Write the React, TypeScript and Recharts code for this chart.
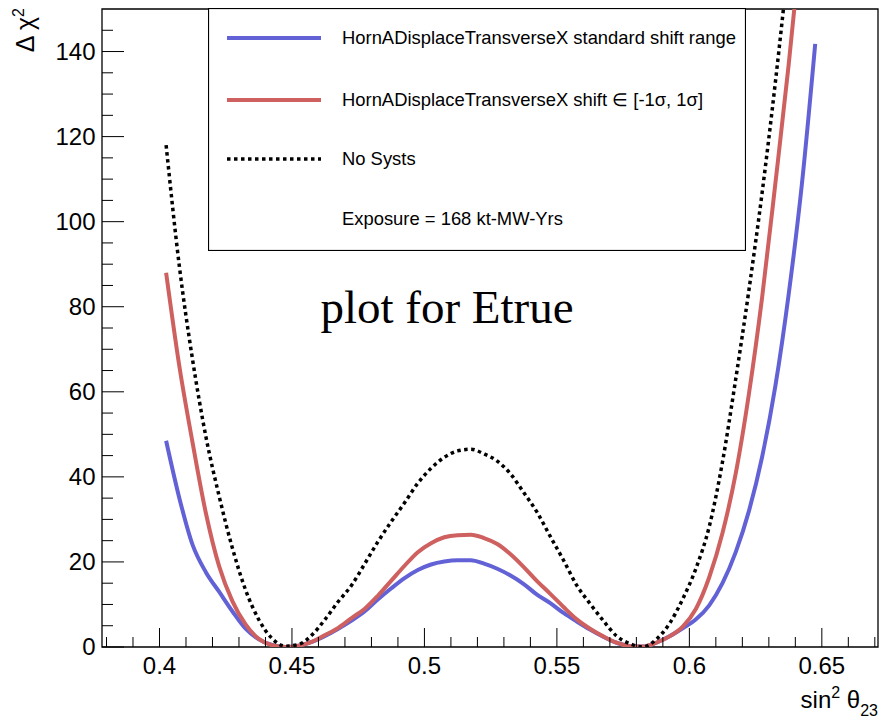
import React from 'react';
import { LineChart, Line, XAxis, YAxis, ReferenceArea, Legend } from 'recharts';

document.body.style.margin = '0';

// sin^2(theta23) scan points
const sin2Theta23 = [
  0.4025, 0.4075, 0.4125, 0.4175, 0.4225, 0.4275, 0.4325, 0.4375, 0.4425, 0.4475,
  0.4525, 0.4575, 0.4625, 0.4675, 0.4725, 0.4775, 0.4825, 0.4875, 0.4925, 0.4975,
  0.5025, 0.5075, 0.5125, 0.5175, 0.5225, 0.5275, 0.5325, 0.5375, 0.5425, 0.5475,
  0.5525, 0.5575, 0.5625, 0.5675, 0.5725, 0.5775, 0.5825, 0.5875, 0.5925, 0.5975,
  0.6025, 0.6075, 0.6125, 0.6175, 0.6225, 0.6275, 0.6325, 0.6375, 0.6425, 0.6475,
];

// delta chi2, standard shift range (blue)
const chi2Standard = [
  48.5, 35.0, 24.0, 17.6, 13.0, 8.4, 4.3, 1.8, 0.5, 0.0,
  0.3, 1.2, 2.6, 4.3, 6.2, 8.4, 11.2, 13.8, 16.2, 18.1,
  19.4, 20.1, 20.4, 20.4, 19.6, 18.4, 16.8, 14.8, 12.3, 10.3,
  8.0, 6.0, 4.1, 2.4, 1.0, 0.2, 0.1, 1.0, 2.5, 4.4,
  6.5, 9.8, 15.0, 22.3, 32.0, 44.8, 61.5, 83.0, 109.0, 141.8,
];

// delta chi2, shift in [-1 sigma, 1 sigma] (red)
const chi2OneSigma = [
  88.0, 66.0, 48.0, 31.5, 19.0, 10.8, 5.3, 1.9, 0.4, 0.0,
  0.3, 1.2, 2.8, 4.5, 6.8, 9.0, 12.1, 15.6, 19.1, 22.3,
  24.4, 25.8, 26.3, 26.4, 25.6, 24.2, 21.8, 18.8, 15.5, 12.5,
  9.4, 6.5, 4.3, 2.5, 1.0, 0.2, 0.1, 1.0, 2.5, 4.8,
  9.0, 16.4, 26.8, 40.8, 59.6, 82.4, 109.2, 137.0, 168.0, 200.0,
];

// delta chi2, no systematics (black dotted)
const chi2NoSysts = [
  118.0, 89.5, 67.5, 49.5, 35.5, 23.3, 13.4, 6.4, 2.0, 0.2,
  0.6, 2.8, 6.5, 10.7, 14.5, 19.6, 24.8, 29.5, 33.9, 38.5,
  42.0, 44.6, 46.1, 46.5, 45.4, 43.7, 40.7, 36.3, 31.7, 26.0,
  20.4, 14.5, 10.2, 6.2, 2.6, 0.8, 0.0, 1.8, 5.5, 11.3,
  18.5, 28.3, 43.5, 63.0, 84.0, 107.0, 133.0, 162.0, 195.0, 232.0,
];

const xMajorTicks = [0.4, 0.45, 0.5, 0.55, 0.6, 0.65];
const xMinorTicks = [
  0.38, 0.39, 0.41, 0.42, 0.43, 0.44, 0.46, 0.47, 0.48, 0.49, 0.51, 0.52, 0.53, 0.54,
  0.56, 0.57, 0.58, 0.59, 0.61, 0.62, 0.63, 0.64, 0.66, 0.67,
];
const yMajorTicks = [0, 20, 40, 60, 80, 100, 120, 140];
const yMinorTicks = [5, 10, 15, 25, 30, 35, 45, 50, 55, 65, 70, 75, 85, 90, 95, 105, 110, 115, 125, 130, 135, 145];

const xDomain: [number, number] = [0.3783, 0.6712];
const yDomain: [number, number] = [0, 150];

const series = [
  { key: 'standard', name: 'HornADisplaceTransverseX standard shift range', color: '#6262d6', width: 4, dash: undefined as string | undefined },
  { key: 'oneSigma', name: 'HornADisplaceTransverseX shift \u2208 [-1\u03c3, 1\u03c3]', color: '#cf6060', width: 4, dash: undefined as string | undefined },
  { key: 'noSysts', name: 'No Systs', color: '#000000', width: 3.5, dash: '3.5 3.5' },
];
const exposureText = 'Exposure = 168 kt-MW-Yrs';

const data = sin2Theta23.map((x, i) => ({
  x,
  standard: chi2Standard[i],
  oneSigma: chi2OneSigma[i],
  noSysts: chi2NoSysts[i],
}));

const FONT = '"Liberation Sans", Arial, Helvetica, sans-serif';

const XTick = (props: any) => {
  const { x, y, payload } = props;
  const major = xMajorTicks.includes(payload.value);
  return (
    <g>
      <line x1={x} y1={y} x2={x} y2={y - (major ? 19 : 10)} stroke="#000" strokeWidth={1} />
      {major && (
        <text x={x} y={y + 26.5} textAnchor="middle" fontFamily={FONT} fontSize={24} fill="#000">
          {String(payload.value)}
        </text>
      )}
    </g>
  );
};

const YTick = (props: any) => {
  const { x, y, payload } = props;
  const major = yMajorTicks.includes(payload.value);
  return (
    <g>
      <line x1={x} y1={y} x2={x + (major ? 22 : 11)} y2={y} stroke="#000" strokeWidth={1} />
      {major && (
        <text x={x - 6.5} y={y} dy="0.35em" textAnchor="end" fontFamily={FONT} fontSize={24} fill="#000">
          {String(payload.value)}
        </text>
      )}
    </g>
  );
};

const LegendBox = () => {
  const rows = [30, 92, 151];
  return (
    <svg width={538} height={243} style={{ display: 'block' }}>
      <rect x={0.5} y={0.5} width={537} height={242} fill="#fff" stroke="#000" strokeWidth={1.2} />
      {series.map((s, i) => (
        <g key={s.key}>
          <line x1={19} x2={113} y1={rows[i]} y2={rows[i]} stroke={s.color} strokeWidth={s.width} strokeDasharray={s.dash} />
          <text x={134} y={rows[i]} dy="0.35em" fontFamily={FONT} fontSize={18.4} fill="#000">
            {s.name}
          </text>
        </g>
      ))}
      <text x={134} y={211} dy="0.35em" fontFamily={FONT} fontSize={18.4} fill="#000">
        {exposureText}
      </text>
    </svg>
  );
};

export default function App() {
  return (
    <div style={{ position: 'relative', width: 881, height: 719, background: '#fff' }}>
      <LineChart width={881} height={719} data={data} margin={{ top: 9, right: 3, bottom: 0, left: 0 }}>
        <XAxis
          type="number"
          dataKey="x"
          domain={xDomain}
          allowDataOverflow
          ticks={[...xMinorTicks, ...xMajorTicks].sort((a, b) => a - b)}
          interval={0}
          tick={<XTick />}
          tickLine={false}
          axisLine={false}
          tickSize={0}
          tickMargin={0}
          height={72}
        />
        <YAxis
          type="number"
          domain={yDomain}
          allowDataOverflow
          ticks={[...yMinorTicks, ...yMajorTicks].sort((a, b) => a - b)}
          interval={0}
          tick={<YTick />}
          tickLine={false}
          axisLine={false}
          tickSize={0}
          tickMargin={0}
          width={102}
        />
        <ReferenceArea x1={xDomain[0]} x2={xDomain[1]} y1={yDomain[0]} y2={yDomain[1]} fill="none" stroke="#000" strokeWidth={1.3} />
        {series.map((s) => (
          <Line
            key={s.key}
            type="monotone"
            dataKey={s.key}
            name={s.name}
            stroke={s.color}
            strokeWidth={s.width}
            strokeDasharray={s.dash}
            dot={false}
            activeDot={false}
            isAnimationActive={false}
          />
        ))}
        <Legend
          layout="horizontal"
          verticalAlign="middle"
          align="center"
          content={() => <LegendBox />}
          wrapperStyle={{ position: 'absolute', left: 208, top: 8, width: 538, height: 243 }}
        />
      </LineChart>
      <svg width={881} height={719} style={{ position: 'absolute', left: 0, top: 0, pointerEvents: 'none' }}>
        <text x={447} y={323} textAnchor="middle" fontFamily='"Liberation Serif", "Times New Roman", serif' fontSize={47} fill="#000">
          plot for Etrue
        </text>
        <text x={878} y={708} textAnchor="end" fontFamily={FONT} fontSize={24} fill="#000">
          sin<tspan dy={-10} fontSize={16}>2</tspan>
          <tspan dy={10}> {'\u03b8'}</tspan>
          <tspan dy={8} fontSize={16}>23</tspan>
        </text>
        <text transform="translate(34, 8) rotate(-90)" textAnchor="end" fontFamily={FONT} fontSize={25} fill="#000">
          {'\u0394 \u03c7'}
          <tspan dy={-10} fontSize={16}>2</tspan>
        </text>
      </svg>
    </div>
  );
}
